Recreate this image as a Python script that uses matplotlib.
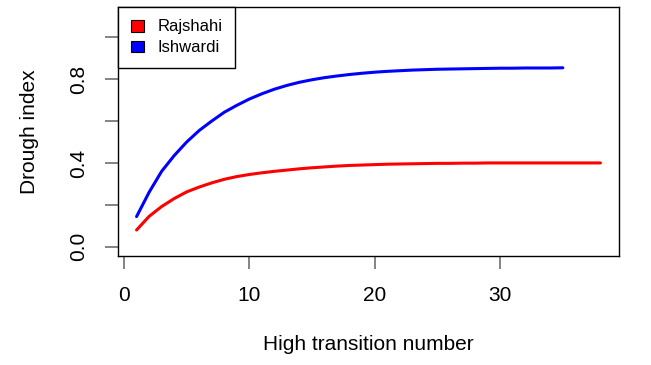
import matplotlib
matplotlib.use("Agg")
import matplotlib.pyplot as plt
from matplotlib.patches import Patch

plt.rcParams["font.family"] = ["Liberation Sans", "DejaVu Sans"]

# Drought index by high transition number
raj_x = list(range(1, 39))
raj_y = [0.080, 0.145, 0.192, 0.230, 0.262, 0.285, 0.305, 0.322, 0.335, 0.345,
         0.353, 0.360, 0.366, 0.372, 0.377, 0.381, 0.385, 0.388, 0.390, 0.392,
         0.394, 0.395, 0.396, 0.397, 0.398, 0.398, 0.399, 0.399, 0.400, 0.400,
         0.400, 0.400, 0.400, 0.400, 0.400, 0.400, 0.400, 0.400]

ish_x = list(range(1, 36))
ish_y = [0.144, 0.260, 0.360, 0.435, 0.500, 0.555, 0.600, 0.642, 0.675, 0.705,
         0.730, 0.752, 0.770, 0.785, 0.797, 0.807, 0.815, 0.822, 0.828, 0.833,
         0.837, 0.840, 0.843, 0.845, 0.847, 0.848, 0.849, 0.850, 0.851, 0.852,
         0.852, 0.853, 0.853, 0.853, 0.854]

x_ticks = [0, 10, 20, 30]
y_ticks = [0.0, 0.2, 0.4, 0.6, 0.8, 1.0]
y_labels = ["0.0", "", "0.4", "", "0.8", ""]

fig = plt.figure(figsize=(6.51, 3.65), dpi=100)
ax = fig.add_axes([118 / 651, 1 - 256 / 365, 501 / 651, 249 / 365])

ax.plot(raj_x, raj_y, color="red", lw=2.2, solid_capstyle="round")
ax.plot(ish_x, ish_y, color="blue", lw=2.2, solid_capstyle="round")

ax.set_xlim(-0.48, 39.48)
ax.set_ylim(-0.044, 1.144)
ax.set_xticks(x_ticks)
ax.set_yticks(y_ticks)
ax.set_yticklabels(y_labels, rotation=90, va="center")
ax.tick_params(axis="both", labelsize=15, length=9.5, width=1.2,
               color="#6e6e6e", pad=12)

for s in ax.spines.values():
    s.set_linewidth(1.0)
    s.set_color("black")

ax.set_xlabel("High transition number", fontsize=15, labelpad=22)
ax.set_ylabel("Drough index", fontsize=15, labelpad=22)

handles = [Patch(facecolor="red", edgecolor="black", lw=0.8),
           Patch(facecolor="blue", edgecolor="black", lw=0.8)]
leg = ax.legend(handles, ["Rajshahi", "Ishwardi"], loc="upper left",
                fontsize=12, borderaxespad=0, fancybox=False,
                edgecolor="black", framealpha=1, handlelength=0.8,
                handleheight=0.7, handletextpad=0.8, borderpad=0.75,
                labelspacing=0.35)
leg.get_frame().set_linewidth(1.0)

fig.savefig("out.png", dpi=100)
